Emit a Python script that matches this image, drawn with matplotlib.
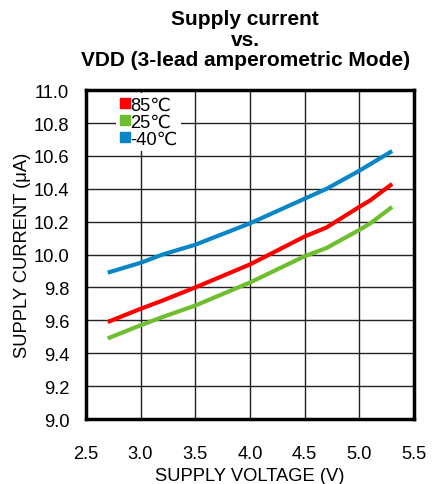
import matplotlib
matplotlib.use("Agg")
import matplotlib.pyplot as plt
from matplotlib.lines import Line2D

plt.rcParams['font.family'] = ['Liberation Sans', 'DejaVu Sans']

voltage = [2.7, 3.0, 3.2, 3.5, 4.0, 4.5, 4.7, 5.0, 5.1, 5.3]
i_85 = [9.59, 9.67, 9.72, 9.80, 9.94, 10.11, 10.165, 10.29, 10.33, 10.43]
i_25 = [9.49, 9.57, 9.62, 9.69, 9.83, 9.99, 10.04, 10.15, 10.19, 10.29]
i_m40 = [9.89, 9.95, 10.00, 10.06, 10.19, 10.34, 10.40, 10.51, 10.55, 10.63]
series_labels = ['85\u2103', '25\u2103', '-40\u2103']
series_colors = ['#ff0000', '#6fbe2f', '#0a86c6']
x_ticks = [2.5, 3.0, 3.5, 4.0, 4.5, 5.0, 5.5]
y_ticks = [9.0, 9.2, 9.4, 9.6, 9.8, 10.0, 10.2, 10.4, 10.6, 10.8, 11.0]

FS = 13.2

fig = plt.figure(figsize=(4.4, 4.85), dpi=100)
ax = fig.add_axes([0.195, 0.134, 0.746, 0.678])

for ys, c in zip([i_85, i_25, i_m40], series_colors):
    ax.plot(voltage, ys, color=c, lw=3, solid_capstyle='butt', zorder=3)

ax.set_xlim(2.5, 5.5)
ax.set_ylim(9.0, 11.0)
ax.set_xticks(x_ticks)
ax.set_xticklabels([f"{v:.1f}" for v in x_ticks])
ax.set_yticks(y_ticks)
ax.set_yticklabels([f"{v:.1f}" for v in y_ticks])
ax.tick_params(axis='both', length=0, labelsize=FS, colors='black')
ax.tick_params(axis='x', pad=19)
ax.tick_params(axis='y', pad=12)
ax.grid(True, color='#222222', lw=1.0, zorder=1)
for s in ax.spines.values():
    s.set_linewidth(2.5)
    s.set_color('black')

ax.set_xlabel('SUPPLY VOLTAGE (V)', fontsize=FS, labelpad=3)
ax.set_ylabel('SUPPLY CURRENT (\u03bcA)', fontsize=FS, labelpad=2)

handles = [Line2D([], [], marker='s', color=c, linestyle='none', markersize=7) for c in series_colors]
leg = ax.legend(handles, series_labels, loc='upper left', bbox_to_anchor=(0.085, 1.0),
                frameon=True, fancybox=False, framealpha=1, edgecolor='white',
                handlelength=0.5, handletextpad=0.05, borderpad=0.2, labelspacing=0.0,
                fontsize=FS, borderaxespad=0.15)
leg.get_frame().set_linewidth(0)
leg.set_zorder(5)

fig.text(0.557, 0.979, 'Supply current\nvs.\nVDD (3-lead amperometric Mode)',
         ha='center', va='top', fontsize=15, fontweight='bold', linespacing=1.1)

fig.savefig('out.png', dpi=100)
